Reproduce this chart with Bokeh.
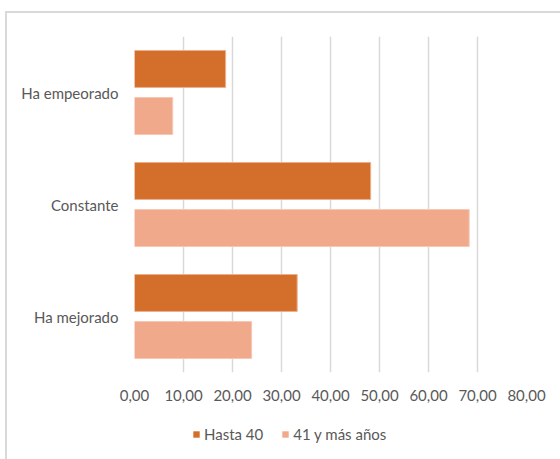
from bokeh.plotting import figure
from bokeh.models import ColumnDataSource, FactorRange, FixedTicker, Legend, LegendItem, Range1d, Div
from bokeh.layouts import column
from bokeh.transform import dodge
from bokeh.embed import file_html
from bokeh.resources import INLINE

categories = ["Ha empeorado", "Constante", "Ha mejorado"]
hasta_40 = [18.6, 48.2, 33.2]
mas_41 = [7.8, 68.3, 23.9]
tick_values = [0, 10, 20, 30, 40, 50, 60, 70, 80]
tick_labels = ["0,00", "10,00", "20,00", "30,00", "40,00", "50,00", "60,00", "70,00", "80,00"]
series_names = ["Hasta 40", "41 y más años"]
colors = ["#D36F2B", "#F1A98B"]
edge_colors = ["#EDB08E", "#F6C8B4"]

source = ColumnDataSource(data=dict(cat=categories, h40=hasta_40, m41=mas_41))

p = figure(
    width=560, height=410,
    y_range=FactorRange(*reversed(categories)),
    x_range=Range1d(0, 80),
    output_backend="svg", toolbar_location=None,
    min_border_left=134, min_border_right=34, min_border_top=36, min_border_bottom=38,
)
p.outline_line_color = None

p.hbar(y=dodge("cat", 0.21, range=p.y_range), right="h40", left=0, height=0.33,
       source=source, fill_color=colors[0], line_color=edge_colors[0], line_width=1)
p.hbar(y=dodge("cat", -0.21, range=p.y_range), right="m41", left=0, height=0.33,
       source=source, fill_color=colors[1], line_color=edge_colors[1], line_width=1)

p.xaxis.ticker = FixedTicker(ticks=tick_values)
p.xaxis.major_label_overrides = {v: l for v, l in zip(tick_values, tick_labels)}
for ax in (p.xaxis, p.yaxis):
    ax.axis_line_color = None
    ax.major_tick_line_color = None
    ax.minor_tick_line_color = None
    ax.major_tick_out = 0
    ax.major_tick_in = 0
    ax.major_label_text_color = "#595959"
    ax.major_label_text_font = "Lato"
    ax.major_label_text_font_size = "15px"
p.xaxis.major_label_standoff = 17
p.yaxis.major_label_standoff = 16

p.xgrid.grid_line_color = "#d9d9d9"
p.xgrid.grid_line_width = 1.5
p.ygrid.grid_line_color = None

# legend strip (hidden swatch renderers, only their legend entries show)
lp = figure(width=560, height=40, x_range=Range1d(0, 1), y_range=Range1d(0, 1),
            output_backend="svg", toolbar_location=None,
            x_axis_location=None, y_axis_location=None,
            min_border_left=0, min_border_right=0, min_border_top=0, min_border_bottom=0)
lp.outline_line_color = None
lp.xgrid.grid_line_color = None
lp.ygrid.grid_line_color = None
lr1 = lp.hbar(y="h40", right="h40", left=0, height=0.5, source=source,
              fill_color=colors[0], line_color=None, visible=False)
lr2 = lp.hbar(y="m41", right="m41", left=0, height=0.5, source=source,
              fill_color=colors[1], line_color=None, visible=False)
legend = Legend(items=[LegendItem(label=series_names[0], renderers=[lr1]),
                       LegendItem(label=series_names[1], renderers=[lr2])],
                orientation="horizontal", location=(58, 7),
                glyph_width=8, glyph_height=8, label_text_font="Lato",
                label_text_font_size="15px", label_text_color="#595959",
                border_line_color=None, background_fill_alpha=0,
                inactive_fill_alpha=0,
                spacing=18, label_standoff=4, margin=0, padding=0)
lp.add_layout(legend, "center")

frame_div = Div(width=1, height=1, text=(
    '<div style="position:fixed;left:5px;top:11px;width:700px;height:700px;'
    'border-left:2px solid #d9d9d9;border-top:2px solid #d9d9d9;'
    'pointer-events:none;"></div>'))

layout = column(p, lp, frame_div, spacing=0)
open("out.html", "w").write(file_html(layout, INLINE))
